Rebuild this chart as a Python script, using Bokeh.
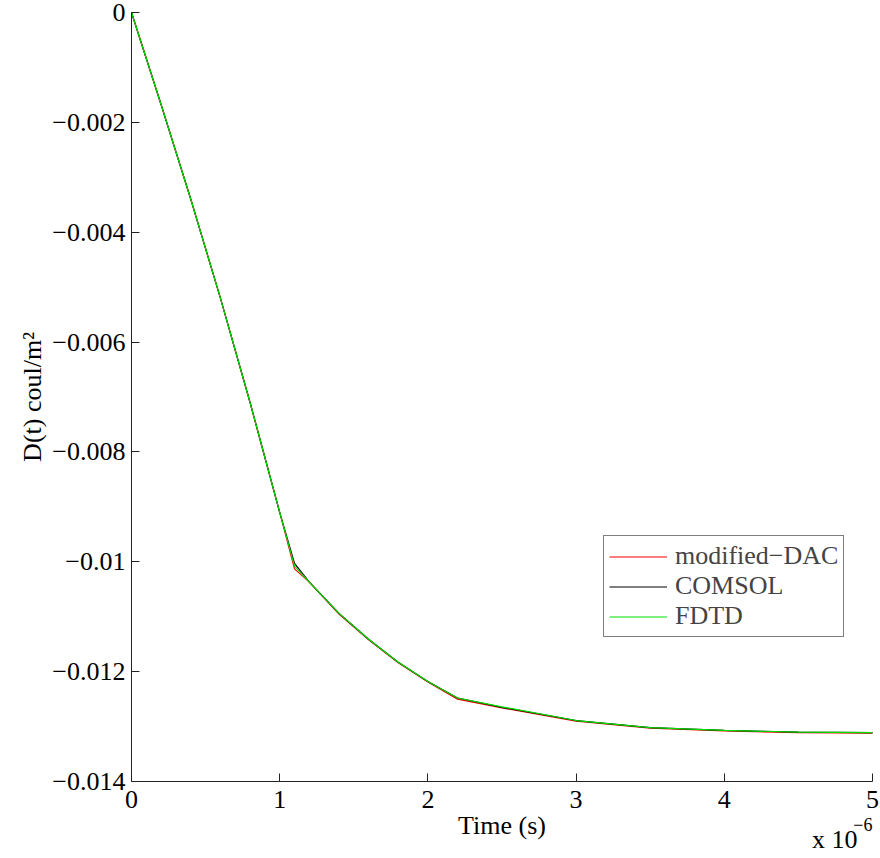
from bokeh.plotting import figure
from bokeh.models import Range1d, Label, Legend, LegendItem, FixedTicker
from bokeh.embed import file_html
from bokeh.resources import INLINE

# time in units of 1e-6 s
t_dac = [0, 0.2, 0.4, 0.6, 0.8, 1.0, 1.1, 1.2, 1.4, 1.6, 1.8, 2.0, 2.2, 2.5, 3.0, 3.5, 4.0, 4.5, 5.0]
d_dac = [0, -0.00168, -0.00340, -0.00520, -0.00710, -0.00910, -0.01013, -0.01037, -0.01095, -0.01142,
         -0.01184, -0.01219, -0.01250, -0.01266, -0.01290, -0.01303, -0.01308, -0.01311, -0.01312]

t_comsol = [0, 0.2, 0.4, 0.6, 0.8, 1.0, 1.1, 1.2, 1.4, 1.6, 1.8, 2.0, 2.2, 2.5, 3.0, 3.5, 4.0, 4.5, 5.0]
d_comsol = [0, -0.00168, -0.00340, -0.00520, -0.00710, -0.00910, -0.01003, -0.01037, -0.01094, -0.01141,
            -0.01183, -0.01218, -0.01248, -0.01265, -0.01289, -0.01302, -0.01307, -0.01310, -0.01311]

t_fdtd = [0, 0.2, 0.4, 0.6, 0.8, 1.0, 1.1, 1.2, 1.4, 1.6, 1.8, 2.0, 2.2, 2.5, 3.0, 3.5, 4.0, 4.5, 5.0]
d_fdtd = [0, -0.00168, -0.00340, -0.00520, -0.00710, -0.00910, -0.01008, -0.01037, -0.01094, -0.01141,
          -0.01183, -0.01218, -0.01248, -0.01264, -0.01289, -0.01302, -0.01307, -0.01310, -0.01311]

x_ticks = [0, 1, 2, 3, 4, 5]
y_ticks = [0, -0.002, -0.004, -0.006, -0.008, -0.01, -0.012, -0.014]
y_tick_labels = ["0", "\u22120.002", "\u22120.004", "\u22120.006", "\u22120.008", "\u22120.01", "\u22120.012", "\u22120.014"]
series_names = ["modified\u2212DAC", "COMSOL", "FDTD"]
series_colors = ["#ff0000", "#000000", "#00e000"]

FONT = "Liberation Serif"
FS = "26px"

W, H = 880, 858
X_MIN, X_MAX = 0, 5
Y_MIN, Y_MAX = -0.014, 0
# axes box in canvas pixels; the frame covers the whole canvas so that no text is clipped
AX_L, AX_R, AX_T, AX_B = 131, 872, 12, 781
sx = (X_MAX - X_MIN) / (AX_R - AX_L)
sy = (Y_MAX - Y_MIN) / (AX_B - AX_T)
x_range = Range1d(X_MIN - AX_L * sx, X_MAX + (W - AX_R) * sx)
y_range = Range1d(Y_MIN - (H - AX_B) * sy, Y_MAX + AX_T * sy)

p = figure(width=W, height=H, output_backend="svg", toolbar_location=None,
           x_range=x_range, y_range=y_range,
           min_border_left=0, min_border_right=0, min_border_top=0, min_border_bottom=0)
p.outline_line_color = None
p.grid.visible = False
p.background_fill_color = "white"
p.border_fill_color = "white"

r1 = p.line(t_dac, d_dac, line_color=series_colors[0], line_width=1.2)
r2 = p.line(t_comsol, d_comsol, line_color=series_colors[1], line_width=1.2)
r3 = p.line(t_fdtd, d_fdtd, line_color=series_colors[2], line_width=1.2)

for ax in (p.xaxis[0], p.yaxis[0]):
    ax.axis_line_color = "#222222"
    ax.major_tick_line_color = "#222222"
    ax.major_tick_in = 8
    ax.major_tick_out = 0
    ax.minor_tick_line_color = None
    ax.major_label_text_font = FONT
    ax.major_label_text_font_size = FS
    ax.major_label_text_color = "black"
    ax.axis_label_text_font = FONT
    ax.axis_label_text_font_size = FS
    ax.axis_label_text_font_style = "normal"
    ax.axis_label_text_color = "black"

p.xaxis.fixed_location = Y_MIN
p.xaxis.bounds = (X_MIN, X_MAX)
p.xaxis.ticker = FixedTicker(ticks=x_ticks)
p.xaxis.major_label_overrides = {v: str(v) for v in x_ticks}
p.xaxis.axis_label = "Time (s)"
p.xaxis.major_label_standoff = 9
p.xaxis.axis_label_standoff = 0

p.yaxis.fixed_location = X_MIN
p.yaxis.bounds = (Y_MIN, Y_MAX)
p.yaxis.ticker = FixedTicker(ticks=y_ticks)
p.yaxis.major_label_overrides = {v: s for v, s in zip(y_ticks, y_tick_labels)}
p.yaxis.axis_label = "D(t) coul/m\u00b2"
p.yaxis.major_label_standoff = 6
p.yaxis.axis_label_standoff = 2

legend = Legend(items=[LegendItem(label=series_names[0], renderers=[r1]),
                       LegendItem(label=series_names[1], renderers=[r2]),
                       LegendItem(label=series_names[2], renderers=[r3])],
                location=(603, 221), orientation="vertical",
                label_text_font=FONT, label_text_font_size=FS,
                glyph_width=58, glyph_height=27, label_height=27, label_standoff=8,
                padding=5, spacing=0, margin=0,
                border_line_color="black", border_line_width=1,
                background_fill_color="white", background_fill_alpha=1.0)
p.add_layout(legend, "center")

p.add_layout(Label(x=X_MAX, y=Y_MIN, x_offset=-15, y_offset=-58, text="x 10",
                   text_font=FONT, text_font_size=FS, text_align="right",
                   text_baseline="alphabetic", text_color="black"))
p.add_layout(Label(x=X_MAX, y=Y_MIN, x_offset=0, y_offset=-43, text="\u22126",
                   text_font=FONT, text_font_size="18px", text_align="right",
                   text_baseline="alphabetic", text_color="black"))

open("out.html", "w").write(file_html(p, INLINE))
